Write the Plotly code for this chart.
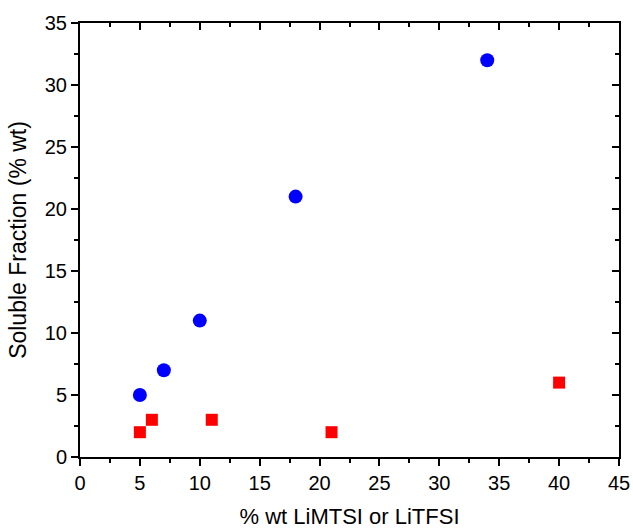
import plotly.graph_objects as go

limtsi_x = [5, 7, 10, 18, 34]
limtsi_y = [5, 7, 11, 21, 32]
litfsi_x = [5, 6, 11, 21, 40]
litfsi_y = [2, 3, 3, 2, 6]

x_range = [0, 45]
y_range = [0, 35]
x_ticks = [0, 5, 10, 15, 20, 25, 30, 35, 40, 45]
y_ticks = [0, 5, 10, 15, 20, 25, 30, 35]

FONT = "Arial, Liberation Sans, sans-serif"

fig = go.Figure()
fig.add_trace(go.Scatter(x=limtsi_x, y=limtsi_y, mode="markers", name="LiMTSI",
                         marker=dict(symbol="circle", size=14, color="#0000ff", line=dict(width=0))))
fig.add_trace(go.Scatter(x=litfsi_x, y=litfsi_y, mode="markers", name="LiTFSI",
                         marker=dict(symbol="square", size=12, color="#ff0000", line=dict(width=0))))
# invisible trace to anchor mirrored axes
fig.add_trace(go.Scatter(x=litfsi_x, y=litfsi_y, xaxis="x2", yaxis="y2", mode="markers",
                         marker=dict(opacity=0), hoverinfo="skip", showlegend=False))

common = dict(showgrid=False, zeroline=False, showline=True, linecolor="black", linewidth=2,
              tickcolor="black", tickwidth=1.5, automargin=False)
minor_out = dict(ticks="outside", ticklen=4, dtick=2.5, tickcolor="black", tickwidth=1.5)
minor_in = dict(ticks="inside", ticklen=4, dtick=2.5, tickcolor="black", tickwidth=1.5)

fig.update_layout(
    width=633, height=530,
    margin=dict(l=80, r=14, t=23, b=73),
    paper_bgcolor="white", plot_bgcolor="white",
    showlegend=False,
    font=dict(family=FONT, size=20, color="black"),
    xaxis=dict(range=x_range, tickvals=x_ticks, ticks="outside", ticklen=7, minor=minor_out,
               title=dict(text="% wt LiMTSI or LiTFSI", standoff=16, font=dict(size=22)),
               tickfont=dict(size=20), **common),
    yaxis=dict(range=y_range, tickvals=y_ticks, ticks="outside", ticklen=7, minor=minor_out,
               title=dict(text="Soluble Fraction (% wt)", standoff=12, font=dict(size=23)),
               tickfont=dict(size=20), **common),
    xaxis2=dict(range=x_range, overlaying="x", side="top", anchor="y", tickvals=x_ticks,
                ticks="inside", ticklen=7, showticklabels=False, minor=minor_in, **common),
    yaxis2=dict(range=y_range, overlaying="y", side="right", anchor="x", tickvals=y_ticks,
                ticks="inside", ticklen=7, showticklabels=False, minor=minor_in, **common),
)

fig.write_html("out.html", config={"displayModeBar": False},
               post_script="document.body.style.margin='0';document.body.style.overflow='hidden';")
